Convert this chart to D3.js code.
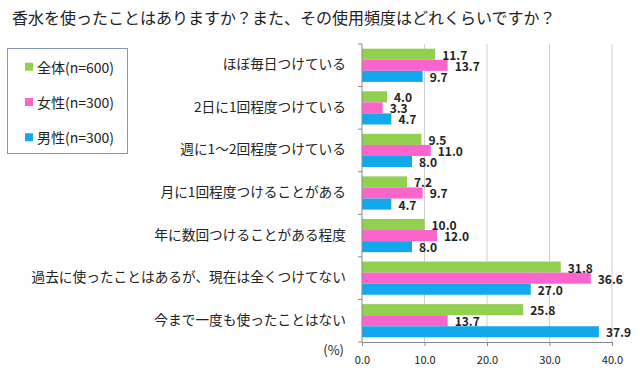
<!DOCTYPE html>
<html>
<head>
<meta charset="utf-8">
<script src="https://cdn.jsdelivr.net/npm/d3@7"></script>
<style>
  body { margin: 0; background: #fff; }
  text { font-family: "Noto Sans CJK JP", "Noto Sans", sans-serif; }
</style>
</head>
<body>
<svg id="chart"></svg>
<script>
// データ
const categories = [
  'ほぼ毎日つけている',
  '2日に1回程度つけている',
  '週に1～2回程度つけている',
  '月に1回程度つけることがある',
  '年に数回つけることがある程度',
  '過去に使ったことはあるが、現在は全くつけてない',
  '今まで一度も使ったことはない'
];
const seriesNames = ['全体(n=600)', '女性(n=300)', '男性(n=300)'];
const allValues    = [11.7, 4.0, 9.5, 7.2, 10.0, 31.8, 25.8];
const femaleValues = [13.7, 3.3, 11.0, 9.7, 12.0, 36.6, 13.7];
const maleValues   = [9.7, 4.7, 8.0, 4.7, 8.0, 27.0, 37.9];
const xTicks = [0, 10, 20, 30, 40];
const colors = ['#92d050', '#fb64cc', '#12a9ec'];

const width = 640, height = 376;
const title = '香水を使ったことはありますか？また、その使用頻度はどれくらいですか？';

const svg = d3.select('#chart')
    .attr('width', width)
    .attr('height', height);

// 表の形に
const series = [allValues, femaleValues, maleValues];
const rows = categories.map((c, i) => ({
    cat: c,
    vals: series.map((s, k) => ({ k: k, v: s[i] }))
}));

// scale定義
const x = d3.scaleLinear().domain([0, 40]).range([362, 612]);
const y0 = d3.scaleBand().domain(categories).range([44, 342])
    .paddingInner(0.22).paddingOuter(0.11);
const y1 = d3.scaleBand().domain(d3.range(series.length)).range([0, y0.bandwidth()]);

// タイトル
svg.append('text')
    .attr('x', 12)
    .attr('y', 17)
    .attr('dominant-baseline', 'central')
    .style('font-size', '16px')
    .attr('fill', '#222')
    .text(title);

// グリッド
svg.append('g')
    .selectAll('line')
    .data(xTicks.slice(1))
    .join('line')
    .attr('x1', d => x(d)).attr('x2', d => x(d))
    .attr('y1', 44).attr('y2', 342)
    .attr('stroke', '#cfcfcf');

// 棒
const groups = svg.append('g')
    .selectAll('g')
    .data(rows)
    .join('g')
    .attr('transform', d => `translate(0, ${y0(d.cat)})`);

groups.selectAll('rect')
    .data(d => d.vals)
    .join('rect')
    .attr('x', x(0))
    .attr('y', d => y1(d.k))
    .attr('width', d => x(d.v) - x(0))
    .attr('height', y1.bandwidth())
    .attr('fill', d => colors[d.k]);

groups.selectAll('text')
    .data(d => d.vals)
    .join('text')
    .attr('x', d => x(d.v) + 7)
    .attr('y', d => y1(d.k) + y1.bandwidth() / 2)
    .attr('dominant-baseline', 'central')
    .style('font-size', '12px')
    .style('font-weight', 'bold')
    .attr('fill', '#222')
    .text(d => d.v.toFixed(1));

// 縦軸
const yAxis = svg.append('g');
yAxis.append('line')
    .attr('x1', x(0)).attr('x2', x(0))
    .attr('y1', 44).attr('y2', 342)
    .attr('stroke', '#888');
yAxis.selectAll('.tick')
    .data(d3.range(categories.length + 1))
    .join('line')
    .attr('x1', x(0) - 4).attr('x2', x(0))
    .attr('y1', i => y0.range()[0] + i * y0.step())
    .attr('y2', i => y0.range()[0] + i * y0.step())
    .attr('stroke', '#888');
yAxis.selectAll('text')
    .data(categories)
    .join('text')
    .attr('x', 346)
    .attr('y', d => y0(d) + y0.bandwidth() / 2 - 2)
    .attr('text-anchor', 'end')
    .attr('dominant-baseline', 'central')
    .style('font-size', '13.7px')
    .attr('fill', '#222')
    .text(d => d);

// 横軸
const xAxis = d3.axisBottom(x)
    .tickValues(xTicks)
    .tickSize(4)
    .tickPadding(10)
    .tickFormat(d3.format('.1f'));
const xg = svg.append('g')
    .attr('transform', 'translate(0, 342)')
    .call(xAxis);
xg.select('.domain').attr('stroke', '#888');
xg.selectAll('.tick line').attr('stroke', '#888');
xg.selectAll('.tick text')
    .style('font-size', '11px')
    .style('font-family', '"Noto Sans CJK JP", sans-serif')
    .attr('fill', '#222');

svg.append('text')
    .attr('x', 344)
    .attr('y', 349)
    .attr('text-anchor', 'end')
    .attr('dominant-baseline', 'central')
    .style('font-size', '13px')
    .attr('fill', '#222')
    .text('(%)');

// 凡例
const legend = svg.append('g');
legend.append('rect')
    .attr('x', 7.5).attr('y', 48.5)
    .attr('width', 120).attr('height', 105)
    .attr('fill', '#fff')
    .attr('stroke', '#8497b0');
const items = legend.selectAll('g')
    .data(seriesNames)
    .join('g')
    .attr('transform', (d, i) => `translate(25, ${66.7 + i * 35.3})`);
items.append('rect')
    .attr('x', 0).attr('y', -4)
    .attr('width', 8).attr('height', 8)
    .attr('fill', (d, i) => colors[i]);
items.append('text')
    .attr('x', 12)
    .attr('y', 0)
    .attr('dominant-baseline', 'central')
    .style('font-size', '14px')
    .attr('fill', '#222')
    .text(d => d);
</script>
</body>
</html>
